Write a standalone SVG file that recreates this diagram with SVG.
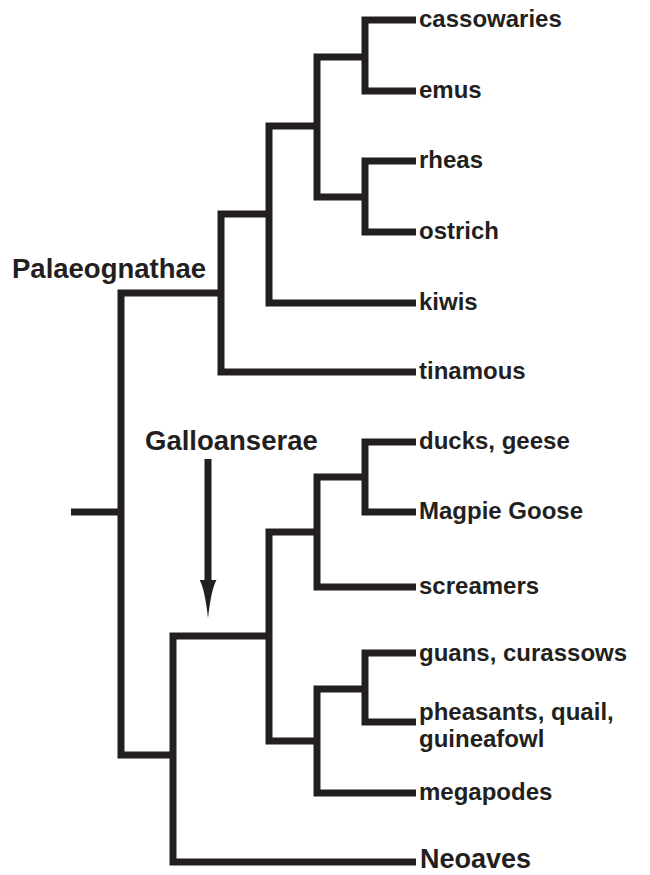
<svg xmlns="http://www.w3.org/2000/svg" width="650" height="875" viewBox="0 0 650 875">
  <style>
    .br { fill: none; stroke: #231f20; stroke-width: 7; stroke-linejoin: miter; stroke-linecap: butt; }
    .tip { font-family: "Liberation Sans", Arial, Helvetica, sans-serif; font-weight: bold; font-size: 24px; fill: #231f20; }
    .clade { font-family: "Liberation Sans", Arial, Helvetica, sans-serif; font-weight: bold; font-size: 27.5px; fill: #231f20; }
  </style>
  <defs>
    <marker id="head" viewBox="0 0 38 17" refX="5" refY="8.5" markerWidth="38" markerHeight="17" markerUnits="userSpaceOnUse" orient="auto">
      <path d="M0,0 Q8,5 38,8.5 Q8,12 0,17 Z" fill="#231f20"/>
    </marker>
  </defs>
  <rect width="650" height="875" fill="#ffffff"/>

  <g id="connectors">
    <path class="br" d="M71,512 H121"/>
    <path class="br" d="M221,293 H121 V755 H173"/>
    <path class="br" d="M269,214 H221 V372 H416"/>
    <path class="br" d="M317,126 H269 V303 H416"/>
    <path class="br" d="M365,57 H317 V197 H365"/>
    <path class="br" d="M416,20 H365 V91 H416"/>
    <path class="br" d="M416,161 H365 V232 H416"/>
    <path class="br" d="M269,636 H173 V862 H416"/>
    <path class="br" d="M317,532 H269 V741 H317"/>
    <path class="br" d="M365,477 H317 V587 H416"/>
    <path class="br" d="M416,442 H365 V512 H416"/>
    <path class="br" d="M365,689 H317 V793 H416"/>
    <path class="br" d="M416,653 H365 V722 H416"/>
    <path class="br" d="M208,459 V585" marker-end="url(#head)"/>
  </g>

  <g id="cassowaries"><text class="tip" x="419" y="27">cassowaries</text></g>
  <g id="emus"><text class="tip" x="419" y="98">emus</text></g>
  <g id="rheas"><text class="tip" x="419" y="168">rheas</text></g>
  <g id="ostrich"><text class="tip" x="419" y="239">ostrich</text></g>
  <g id="kiwis"><text class="tip" x="419" y="310">kiwis</text></g>
  <g id="tinamous"><text class="tip" x="419" y="379">tinamous</text></g>
  <g id="ducks-geese"><text class="tip" x="419" y="449">ducks, geese</text></g>
  <g id="magpie-goose"><text class="tip" x="419" y="519">Magpie Goose</text></g>
  <g id="screamers"><text class="tip" x="419" y="594">screamers</text></g>
  <g id="guans-curassows"><text class="tip" x="419" y="661">guans, curassows</text></g>
  <g id="pheasants"><text class="tip" x="419" y="720">pheasants, quail,</text><text class="tip" x="419" y="747">guineafowl</text></g>
  <g id="megapodes"><text class="tip" x="419" y="800">megapodes</text></g>
  <g id="neoaves"><text class="clade" x="420" y="868" style="font-size:27px">Neoaves</text></g>
  <g id="palaeognathae"><text class="clade" x="12" y="278">Palaeognathae</text></g>
  <g id="galloanserae"><text class="clade" x="145" y="450">Galloanserae</text></g>
</svg>
